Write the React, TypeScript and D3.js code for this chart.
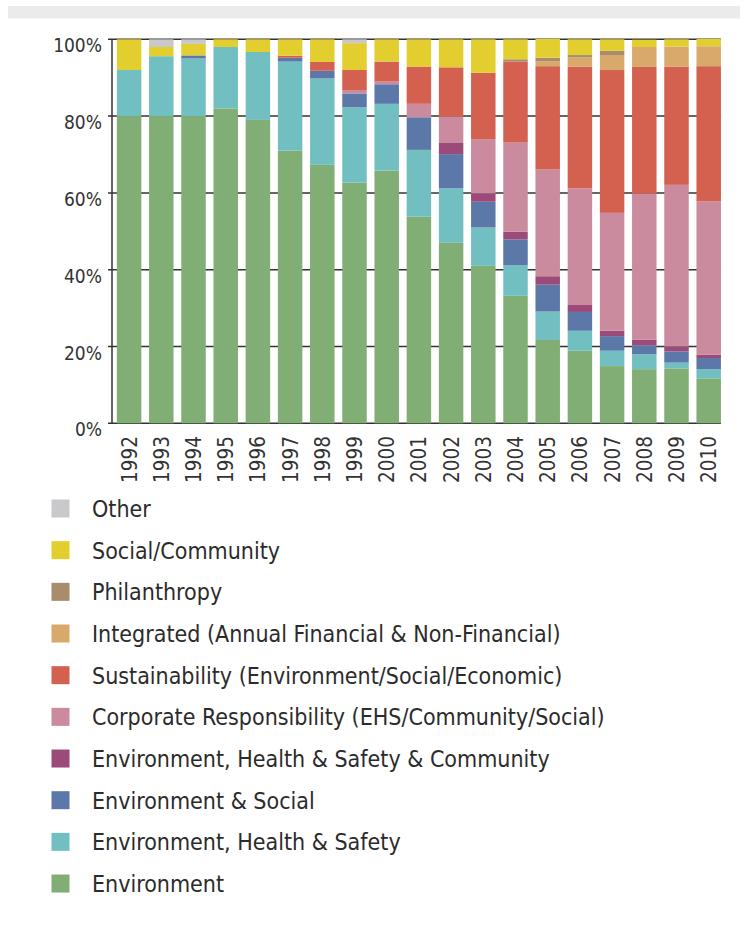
import React from "react";
import * as d3 from "d3";

const years = ["1992","1993","1994","1995","1996","1997","1998","1999","2000","2001","2002","2003","2004","2005","2006","2007","2008","2009","2010"];

const environment = [80, 80, 80, 82, 79, 71, 67.3, 62.7, 65.8, 53.8, 47, 41, 33.2, 21.7, 18.9, 14.9, 14.1, 14.3, 11.7];
const ehs = [12, 15.6, 15, 16, 17.7, 23.2, 22.5, 19.6, 17.4, 17.4, 14.2, 10, 8, 7.4, 5.2, 4, 3.9, 1.5, 2.4];
const envSocial = [0, 0, 0.8, 0, 0, 1, 2, 3.6, 5.1, 8.5, 8.9, 6.7, 6.7, 7, 4.9, 3.8, 2.3, 2.9, 2.9];
const ehsCommunity = [0, 0, 0, 0, 0, 0, 0, 0, 0, 0, 2.9, 2.2, 2, 2.2, 1.8, 1.4, 1.5, 1.3, 0.9];
const corpResp = [0, 0, 0, 0, 0, 0, 0, 0.9, 0.7, 3.5, 6.9, 14.1, 23.2, 27.8, 30.4, 30.7, 38, 42.1, 39.9];
const sustainability = [0, 0, 0, 0, 0, 0.5, 2.3, 5.2, 5.2, 9.7, 12.8, 17.3, 21.1, 26.9, 31.7, 37.2, 33, 30.8, 35.2];
const integrated = [0, 0, 0, 0, 0, 0, 0, 0, 0, 0, 0, 0, 0, 1.3, 2.4, 3.9, 5.2, 5.2, 5.2];
const philanthropy = [0, 0, 0, 0, 0, 0, 0, 0, 0, 0, 0, 0, 0.6, 0.9, 0.6, 1.1, 0, 0, 0];
const socialCommunity = [8, 2.4, 3, 2, 3.3, 4.3, 5.9, 7, 5.8, 7.1, 7.3, 8.7, 5.2, 4.9, 4.1, 3, 1.9, 1.9, 1.9];
const other = [0, 2, 1.2, 0, 0, 0, 0, 1, 0, 0, 0, 0, 0, 0, 0, 0, 0, 0, 0];

const yTicks = [0, 20, 40, 60, 80, 100];

// bottom-to-top stacking order
const seriesKeys = ["env", "ehs", "es", "ehsc", "cr", "sust", "integ", "phil", "social", "other"];
const seriesLabels = [
  "Environment",
  "Environment, Health & Safety",
  "Environment & Social",
  "Environment, Health & Safety & Community",
  "Corporate Responsibility (EHS/Community/Social)",
  "Sustainability (Environment/Social/Economic)",
  "Integrated (Annual Financial & Non-Financial)",
  "Philanthropy",
  "Social/Community",
  "Other",
];
const seriesValues = [environment, ehs, envSocial, ehsCommunity, corpResp, sustainability, integrated, philanthropy, socialCommunity, other];
const seriesColors = ["#80ae74", "#72bfc2", "#5b78a9", "#9c4a7a", "#c98b9d", "#d4604f", "#d8a96a", "#a88c6c", "#e2cf2f", "#c9c9cb"];

const FONT = "'DejaVu Sans Condensed', 'DejaVu Sans', sans-serif";

export default function App() {
  const W = 747, H = 945;
  const rows = years.map((yr, i) => {
    const r: any = { year: yr };
    seriesKeys.forEach((k, j) => (r[k] = seriesValues[j][i]));
    return r;
  });
  const stacked = d3.stack().keys(seriesKeys)(rows);

  const x = d3.scaleBand().domain(years).range([113, 724.8]).paddingInner(0.24).paddingOuter(0.12);
  const y = d3.scaleLinear().domain([0, 100]).range([423.3, 39.3]);
  const gridEnd = (x(years[years.length - 1]) as number) + x.bandwidth();
  const axisX = 112;

  const legendOrder = seriesKeys.map((_, i) => i).reverse();
  const legendTop = 508.5;
  const legendStep = 41.67;

  return (
    <svg width={W} height={H} style={{ position: "absolute", left: 0, top: 0, background: "#fff" }}
      fontFamily={FONT}>
      <rect x={8} y={6} width={732} height={12.5} fill="#ebebeb" />
      {yTicks.map((t) => (
        <line key={"g" + t} x1={axisX - 4} x2={gridEnd} y1={y(t)} y2={y(t)} stroke="#333" strokeWidth={1.5} />
      ))}
      {stacked.map((s, si) => (
        <g key={s.key} fill={seriesColors[si]}>
          {s.map((d: any, i: number) => (
            d[1] - d[0] > 0 ? (
              <rect key={i} x={x(years[i])} y={y(d[1])} width={x.bandwidth()} height={y(d[0]) - y(d[1])} />
            ) : null
          ))}
        </g>
      ))}
      <line x1={axisX} x2={axisX} y1={y(100)} y2={y(0)} stroke="#333" strokeWidth={1.5} />
      {yTicks.map((t) => (
        <text key={"yl" + t} x={102} y={y(t) + 13} textAnchor="end" fontSize={19} fill="#333">
          {t + "%"}
        </text>
      ))}
      {years.map((yr) => {
        const cx = (x(yr) as number) + x.bandwidth() / 2 + 7.5;
        const ty = 436;
        return (
          <text key={"xl" + yr} transform={`translate(${cx},${ty}) rotate(-90)`} textAnchor="end" fontSize={20.5} fill="#333">
            {yr}
          </text>
        );
      })}
      {legendOrder.map((si, k) => {
        const cy = legendTop + k * legendStep;
        return (
          <g key={"lg" + si}>
            <rect x={51.5} y={cy - 9} width={18} height={18} fill={seriesColors[si]} />
            <text x={92} y={cy + 8.5} fontSize={23} fill="#2b2b2b">{seriesLabels[si]}</text>
          </g>
        );
      })}
    </svg>
  );
}
